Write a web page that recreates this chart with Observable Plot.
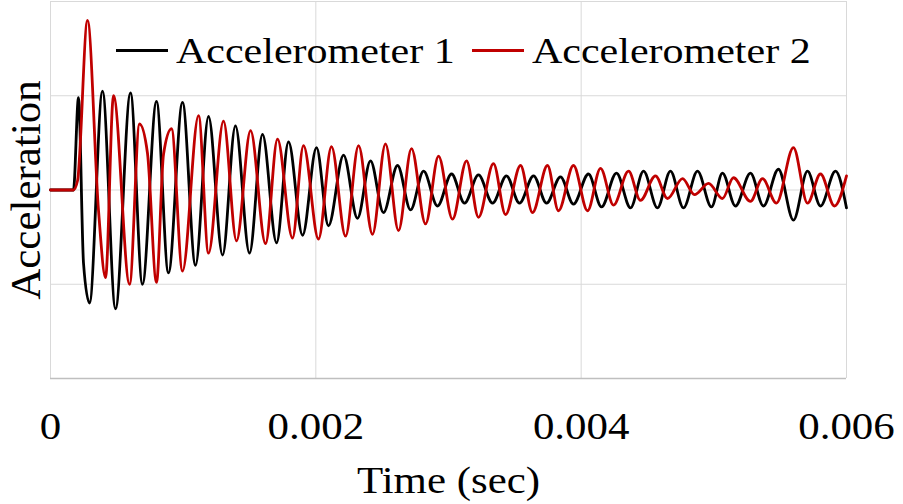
<!DOCTYPE html>
<html><head><meta charset="utf-8">
<script src="https://cdn.jsdelivr.net/npm/d3@7"></script>
<script src="https://cdn.jsdelivr.net/npm/@observablehq/plot@0.6"></script>
<style>
body{margin:0;background:#fff;}
#wrap{position:relative;width:903px;height:504px;font-family:"Liberation Serif","Times New Roman",serif;}
.lg-line{position:absolute;height:3px;top:49px;width:52px;}
.lg-text{position:absolute;top:34px;font-size:35px;line-height:35px;transform:scaleX(1.2);transform-origin:0 0;white-space:nowrap;color:#000;}
</style></head><body><div id="wrap"></div>
<script>
const seriesNames = ["Accelerometer 1", "Accelerometer 2"];
const seriesColors = ["#000000", "#c00000"];
const xTicks = [0, 0.002, 0.004, 0.006];
const xTickLabels = ["0", "0.002", "0.004", "0.006"];
const yGrid = [-2, -1, 0, 1, 2];
const xLabel = "Time (sec)";
const yLabel = "Acceleration";

// Accelerometer 1 (black): turning points
const acc1Time = [0, 0.000173, 0.000211, 0.000249, 0.000294, 0.000392, 0.000490, 0.000603, 0.000693, 0.000799,
  0.000889, 0.000995, 0.001093, 0.001191, 0.001297, 0.001394, 0.001500, 0.001598, 0.001704, 0.001794,
  0.001900, 0.002005, 0.002095, 0.002209, 0.002314, 0.002412, 0.002510, 0.002616, 0.002714, 0.002812,
  0.002917, 0.003023, 0.003121, 0.003226, 0.003332, 0.003437, 0.003535, 0.003641, 0.003739, 0.003844,
  0.003942, 0.004055, 0.004153, 0.004266, 0.004372, 0.004470, 0.004575, 0.004673, 0.004771, 0.004877,
  0.004982, 0.005065, 0.005163, 0.005276, 0.005374, 0.005487, 0.005600, 0.005706, 0.005804, 0.005917, 0.006000];
const acc1Value = [0, 0, 0.98, -0.78, -1.20, 1.05, -1.26, 1.03, -1.00, 0.94,
  -0.88, 0.93, -0.80, 0.78, -0.69, 0.68, -0.67, 0.59, -0.56, 0.51,
  -0.48, 0.45, -0.38, 0.37, -0.30, 0.31, -0.24, 0.26, -0.21, 0.20,
  -0.17, 0.17, -0.14, 0.16, -0.14, 0.15, -0.14, 0.15, -0.14, 0.14,
  -0.15, 0.17, -0.18, 0.18, -0.19, 0.20, -0.19, 0.20, -0.19, 0.20,
  -0.18, 0.18, -0.17, 0.18, -0.17, 0.22, -0.32, 0.20, -0.17, 0.20, -0.19];

// Accelerometer 2 (red)
const acc2Time = [0, 0.000173, 0.000204, 0.000279, 0.000362, 0.000415, 0.000475, 0.000596, 0.000671, 0.000731,
  0.000799, 0.000852, 0.000912, 0.000995, 0.001116, 0.001191, 0.001304, 0.001402, 0.001508, 0.001621,
  0.001711, 0.001824, 0.001907, 0.002020, 0.002118, 0.002224, 0.002322, 0.002427, 0.002525, 0.002623,
  0.002721, 0.002827, 0.002925, 0.003030, 0.003136, 0.003226, 0.003339, 0.003430, 0.003543, 0.003633,
  0.003746, 0.003829, 0.003942, 0.004048, 0.004146, 0.004244, 0.004357, 0.004447, 0.004560, 0.004651,
  0.004764, 0.004854, 0.004960, 0.005065, 0.005148, 0.005276, 0.005367, 0.005472, 0.005600, 0.005706,
  0.005804, 0.005909, 0.006000];
const acc2Value = [0, 0, 0.10, 1.80, -0.22, -0.93, 1.00, -1.00, 0.70, 0.39,
  -0.98, 0.38, 0.65, -0.86, 0.79, -0.67, 0.73, -0.54, 0.63, -0.57,
  0.54, -0.51, 0.47, -0.52, 0.46, -0.49, 0.47, -0.47, 0.49, -0.43,
  0.44, -0.36, 0.36, -0.31, 0.31, -0.29, 0.28, -0.26, 0.26, -0.24,
  0.26, -0.22, 0.26, -0.22, 0.23, -0.16, 0.20, -0.11, 0.15, -0.09,
  0.12, -0.05, 0.07, -0.09, 0.13, -0.12, 0.12, -0.14, 0.45, -0.14,
  0.17, -0.17, 0.15];

const acc1 = acc1Time.map((t, i) => ({t, v: acc1Value[i]}));
const acc2 = acc2Time.map((t, i) => ({t, v: acc2Value[i]}));

const FONT = '"Liberation Serif","Times New Roman",serif';

const chart = Plot.plot({
  width: 903, height: 504,
  marginLeft: 50, marginRight: 57, marginTop: 1, marginBottom: 126,
  style: {fontFamily: FONT, background: "#fff", color: "#000"},
  x: {domain: [0, 0.006], axis: null},
  y: {domain: [-2, 2], axis: null},
  marks: [
    Plot.ruleY(yGrid.slice(1), {stroke: "#d9d9d9", strokeWidth: 1}),
    Plot.ruleX(xTicks, {stroke: "#d9d9d9", strokeWidth: 1}),
    Plot.ruleY([yGrid[0]], {stroke: "#bfbfbf", strokeWidth: 1.5}),
    Plot.line(acc1, {x: "t", y: "v", stroke: seriesColors[0], strokeWidth: 2.8, curve: "monotone-x"}),
    Plot.line(acc2, {x: "t", y: "v", stroke: seriesColors[1], strokeWidth: 2.8, curve: "monotone-x"}),
    Plot.text(xTicks, {x: d => d, text: (d, i) => xTickLabels[i], frameAnchor: "bottom", dy: 60, fontSize: 37, fill: "#000"}),
    Plot.text([xLabel], {text: d => d, frameAnchor: "bottom", dy: 114, fontSize: 37, fill: "#000"}),
    Plot.text([yLabel], {text: d => d, frameAnchor: "left", textAnchor: "middle", dx: -24, rotate: -90, fontSize: 43, fill: "#000"})
  ]
});

chart.querySelectorAll("text").forEach(t => {
  const tr = t.getAttribute("transform") || "";
  if (tr.includes("rotate")) return;
  const x = t.getAttribute("x"), y = t.getAttribute("y");
  if (!tr) {
    t.setAttribute("transform", `translate(${x || 0},${y || 0}) scale(1.16,1)`);
    t.removeAttribute("x"); t.removeAttribute("y");
  } else {
    t.setAttribute("transform", tr + " scale(1.16,1)");
  }
});

const wrap = document.getElementById("wrap");
wrap.appendChild(chart);

const legendPos = [{line: 116, text: 176}, {line: 472, text: 532}];
seriesNames.forEach((name, i) => {
  const ln = document.createElement("div");
  ln.className = "lg-line";
  ln.style.left = legendPos[i].line + "px";
  ln.style.background = seriesColors[i];
  wrap.appendChild(ln);
  const tx = document.createElement("div");
  tx.className = "lg-text";
  tx.style.left = legendPos[i].text + "px";
  tx.textContent = name;
  wrap.appendChild(tx);
});
</script></body></html>
